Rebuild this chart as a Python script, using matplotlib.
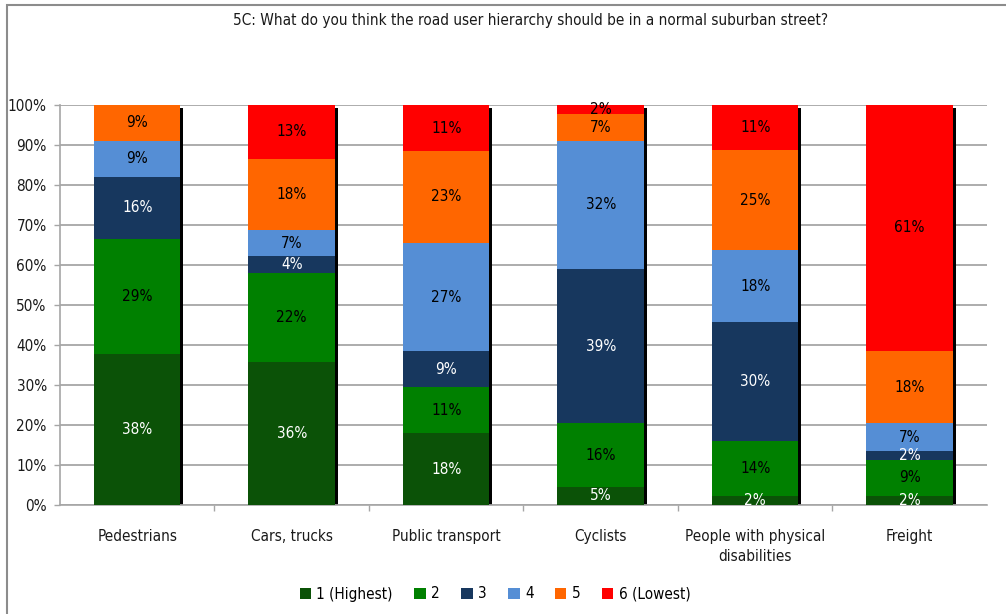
import matplotlib
matplotlib.use("Agg")
import matplotlib.pyplot as plt
import matplotlib.transforms as mtransforms
from matplotlib.patches import Rectangle
import numpy as np

plt.rcParams['font.family'] = ['DejaVu Sans']
plt.rcParams['font.stretch'] = 'condensed'

categories = ["Pedestrians", "Cars, trucks", "Public transport", "Cyclists",
              "People with physical\ndisabilities", "Freight"]
series_names = ["1 (Highest)", "2", "3", "4", "5", "6 (Lowest)"]
colors = ["#0B5207", "#008000", "#17375E", "#558ED5", "#FF6600", "#FF0000"]
label_colors = ["white", "black", "white", "black", "black", "black"]

# share of respondents (%) per rank, one list per category
pedestrians = [37.8, 28.7, 15.6, 9.0, 8.9, 0.0]
cars_trucks = [35.8, 22.2, 4.2, 6.6, 17.8, 13.4]
public_transport = [18.0, 11.4, 9.0, 27.2, 22.9, 11.4]
cyclists = [4.6, 15.8, 38.7, 32.0, 6.6, 2.3]
disabled = [2.3, 13.8, 29.6, 18.0, 25.0, 11.3]
freight = [2.3, 9.0, 2.3, 6.8, 18.2, 61.4]

data = np.array([pedestrians, cars_trucks, public_transport, cyclists,
                 disabled, freight])

fig = plt.figure(figsize=(10.06, 6.14), dpi=100)
ax = fig.add_axes([0.0596, 0.1775, 0.9215, 0.6515])

x = np.arange(len(categories))
width = 0.56
fs = 11

# drop shadow behind each bar
shadow_tf = ax.transData + mtransforms.ScaledTranslation(3 / 100, -3 / 100, fig.dpi_scale_trans)
ax.bar(x, data.sum(axis=1), width, color="black", transform=shadow_tf, zorder=2)

bottom = np.zeros(len(categories))
for j, name in enumerate(series_names):
    vals = data[:, j]
    ax.bar(x, vals, width, bottom=bottom, color=colors[j], label=name, zorder=3)
    for i, v in enumerate(vals):
        if v > 0:
            ax.text(x[i], bottom[i] + v / 2, f"{v:.0f}%", ha="center", va="center",
                    fontsize=fs, color=label_colors[j], zorder=4)
    bottom += vals

ax.set_xlim(-0.5, len(categories) - 0.5)
ax.set_ylim(0, 100)
ax.set_yticks(np.arange(0, 101, 10))
ax.set_yticklabels([f"{t}%" for t in range(0, 101, 10)], fontsize=fs, color="#1a1a1a")
ax.yaxis.grid(True, color="#A6A6A6", linewidth=1.3, zorder=0)
ax.set_axisbelow(True)

ax.set_xticks(x)
ax.set_xticklabels(categories, fontsize=fs, color="#1a1a1a", linespacing=1.45)
ax.tick_params(axis="x", length=0, pad=17)
ax.set_xticks(np.arange(0.5, len(categories) - 0.5, 1), minor=True)
ax.tick_params(axis="x", which="minor", length=4.5, color="#A6A6A6", width=1)
ax.tick_params(axis="y", length=4.5, color="#A6A6A6", width=1, pad=5)

for side in ["top", "right"]:
    ax.spines[side].set_visible(False)
for side in ["left", "bottom"]:
    ax.spines[side].set_color("#A6A6A6")
    ax.spines[side].set_linewidth(1.2)

fig.text(531 / 1006, 1 - 20 / 614, "5C: What do you think the road user hierarchy should be in a normal suburban street?",
         ha="center", va="center", fontsize=fs, color="#1a1a1a")

fig.legend(loc="center", bbox_to_anchor=(495 / 1006, 1 - 594 / 614), ncol=6,
           frameon=False, fontsize=fs, handlelength=0.75, handleheight=0.75,
           handletextpad=0.35, columnspacing=1.4)

# grey frame around the chart area
fig.add_artist(Rectangle((7 / 1006, -0.1), 1.2, 1.1 - 5 / 614, fill=False,
                         edgecolor="#8C8C8C", linewidth=1.5,
                         transform=fig.transFigure, clip_on=False))

fig.savefig("out.png", dpi=100)
